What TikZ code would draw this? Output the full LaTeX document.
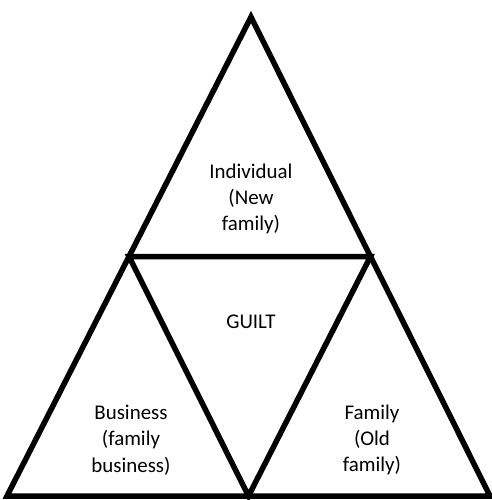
\documentclass[tikz,border=0pt]{standalone}
\usepackage{fontspec}
\setmainfont{Carlito}
\usetikzlibrary{positioning,calc}

\begin{document}
\begin{tikzpicture}[x=1bp,y=-1bp,line width=5.5bp,line join=miter,
  lbl/.style={align=center,font=\fontsize{21}{26.5}\selectfont,inner sep=0pt}]
 \useasboundingbox (0,0) rectangle (492,500);
 % outer and inner triangle
 \coordinate (top) at (251,17);
 \coordinate (botl) at (7,496);
 \coordinate (botr) at (490,496);
 \coordinate (midl) at ($(top)!0.5!(botl)$);
 \coordinate (midr) at ($(top)!0.5!(botr)$);
 \coordinate (midb) at ($(botl)!0.5!(botr)$);
 \draw (top) -- (botl) -- (botr) -- cycle;
 \draw (midl) -- (midr) -- (midb) -- cycle;
 % labels
 \node[lbl] (indiv) at (251,199) {Individual\\(New\\family)};
 \node[lbl] (guilt) at (251,322) {GUILT};
 \node[lbl] (busi) at (131,440) {Business\\(family\\business)};
 \node[lbl] (fam) at (372,440) {Family\\(Old\\family)};
\end{tikzpicture}
\end{document}
